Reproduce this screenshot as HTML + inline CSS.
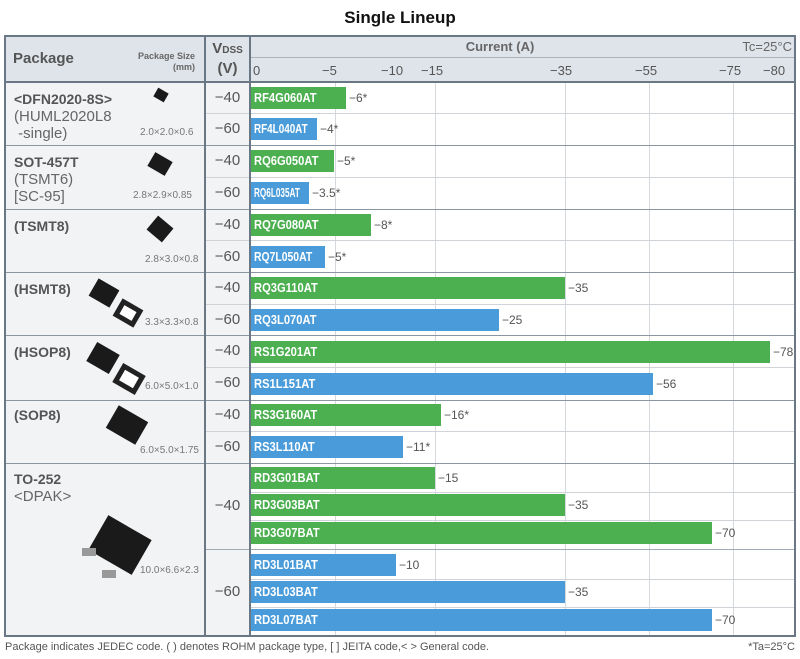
<!DOCTYPE html>
<html><head><meta charset="utf-8"><style>
*{margin:0;padding:0;box-sizing:border-box}
body{width:800px;height:659px;background:#fff;font-family:"Liberation Sans",Arial,sans-serif;position:relative;overflow:hidden;color:#555}
div{position:absolute}
.t{white-space:nowrap}
.bar{height:22px;color:#fff;font-weight:bold;font-size:13px;line-height:22px;padding-left:3px;overflow:visible}
.bar span{display:inline-block;transform:scaleX(0.86);transform-origin:left center}
.g{background:#4caf50}.b{background:#4a9bd9}
.v{font-size:12px;color:#555;line-height:22px}
.vd{font-size:15px;color:#555;width:45px;text-align:center;left:205px}
.pn{font-size:14px;font-weight:bold;color:#555;left:14px;line-height:17px}
.ps{font-size:15px;color:#666;left:14px;line-height:17px}
.sz{font-size:10px;color:#777;line-height:12px}
.hl{height:1px;background:#8a96a2}
.gl{width:1px;background:#d5d9dd;top:82px;height:554px}
.cl{height:1px;background:#d0d4d8;left:250px;width:545px}
.chip{background:#1a1a1a;transform:rotate(30deg)}
</style></head><body>
<div class="t" style="left:0;width:800px;top:8px;text-align:center;font-weight:bold;font-size:17px;color:#111">Single Lineup</div>
<div style="left:5px;top:36px;width:790px;height:46px;background:#dfe4ea"></div>
<div style="left:5px;top:82px;width:245px;height:554px;background:#f2f3f5"></div>
<div style="left:250px;top:57px;width:545px;height:1px;background:#aab3bc"></div>
<div class="t" style="left:13px;top:50px;font-weight:bold;font-size:15px;color:#555">Package</div>
<div class="t" style="left:120px;top:51px;width:75px;text-align:right;font-weight:bold;font-size:9px;color:#666;line-height:11px">Package Size<br>(mm)</div>
<div class="t" style="left:205px;top:40px;width:45px;text-align:center;font-weight:bold;font-size:15px;color:#555;line-height:18px">V<span style="font-size:10px">DSS</span><br>(V)</div>
<div class="t" style="left:250px;top:39px;width:500px;text-align:center;font-weight:bold;font-size:13px;color:#666">Current (A)</div>
<div class="t" style="left:700px;top:39px;width:92px;text-align:right;font-size:13px;color:#666">Tc=25°C</div>
<div class="t" style="left:253px;top:63px;font-size:13px;color:#555">0</div>
<div class="t" style="left:322px;top:63px;font-size:13px;color:#555">−5</div>
<div class="t" style="left:381px;top:63px;font-size:13px;color:#555">−10</div>
<div class="t" style="left:421px;top:63px;font-size:13px;color:#555">−15</div>
<div class="t" style="left:550px;top:63px;font-size:13px;color:#555">−35</div>
<div class="t" style="left:635px;top:63px;font-size:13px;color:#555">−55</div>
<div class="t" style="left:719px;top:63px;font-size:13px;color:#555">−75</div>
<div class="t" style="left:763px;top:63px;font-size:13px;color:#555">−80</div>
<div class="gl" style="left:335px"></div><div class="gl" style="left:435px"></div><div class="gl" style="left:565px"></div><div class="gl" style="left:649px"></div><div class="gl" style="left:733px"></div>
<div class="cl" style="top:113px;left:205px;width:590px"></div><div class="cl" style="top:177px;left:205px;width:590px"></div><div class="cl" style="top:240px;left:205px;width:590px"></div><div class="cl" style="top:304px;left:205px;width:590px"></div><div class="cl" style="top:367px;left:205px;width:590px"></div><div class="cl" style="top:431px;left:205px;width:590px"></div>
<div class="cl" style="top:492px"></div><div class="cl" style="top:520px"></div><div class="cl" style="top:549px;left:205px;width:590px;background:#a0aab4"></div><div class="cl" style="top:579px"></div><div class="cl" style="top:607px"></div>
<div class="hl" style="left:5px;width:790px;top:145px"></div><div class="hl" style="left:5px;width:790px;top:209px"></div><div class="hl" style="left:5px;width:790px;top:272px"></div><div class="hl" style="left:5px;width:790px;top:335px"></div><div class="hl" style="left:5px;width:790px;top:400px"></div><div class="hl" style="left:5px;width:790px;top:463px"></div>
<div style="left:4px;top:35px;width:792px;height:602px;border:2px solid #6a7885"></div>
<div style="left:5px;top:81px;width:790px;height:2px;background:#6a7885"></div>
<div style="left:204px;top:36px;width:2px;height:600px;background:#6a7885"></div>
<div style="left:249px;top:36px;width:2px;height:600px;background:#6a7885"></div>
<div class="t pn" style="top:91px">&lt;DFN2020-8S&gt;</div><div class="t ps" style="top:108px">(HUML2020L8<br>&nbsp;-single)</div>
<div class="t sz" style="left:140px;top:127px">2.0×2.0×0.6</div>
<div class="chip" style="left:155px;top:90px;width:12px;height:10px"></div>
<div class="t pn" style="top:154px">SOT-457T</div><div class="t ps" style="top:171px">(TSMT6)<br>[SC-95]</div>
<div class="t sz" style="left:133px;top:190px">2.8×2.9×0.85</div>
<div class="chip" style="left:150px;top:156px;width:20px;height:16px"></div>
<div class="t pn" style="top:218px">(TSMT8)</div>
<div class="t sz" style="left:145px;top:254px">2.8×3.0×0.8</div>
<div class="chip" style="left:150px;top:220px;width:20px;height:18px;transform:rotate(40deg)"></div>
<div class="t pn" style="top:281px">(HSMT8)</div>
<div class="t sz" style="left:145px;top:317px">3.3×3.3×0.8</div>
<div class="chip" style="left:92px;top:283px;width:24px;height:20px"></div><div class="chip" style="left:116px;top:303px;width:24px;height:20px;border:5px solid #222;background:#fff"></div>
<div class="t pn" style="top:344px">(HSOP8)</div>
<div class="t sz" style="left:145px;top:381px">6.0×5.0×1.0</div>
<div class="chip" style="left:90px;top:347px;width:26px;height:22px"></div><div class="chip" style="left:116px;top:368px;width:26px;height:22px;border:5px solid #222;background:#fff"></div>
<div class="t pn" style="top:407px">(SOP8)</div>
<div class="t sz" style="left:140px;top:445px">6.0×5.0×1.75</div>
<div class="chip" style="left:110px;top:412px;width:34px;height:26px"></div>
<div class="t pn" style="top:471px">TO-252</div><div class="t ps" style="top:488px">&lt;DPAK&gt;</div>
<div class="t sz" style="left:140px;top:565px">10.0×6.6×2.3</div>
<div class="chip" style="left:95px;top:525px;width:50px;height:40px"></div>
<div style="left:82px;top:548px;width:14px;height:8px;background:#999"></div><div style="left:102px;top:570px;width:14px;height:8px;background:#999"></div>
<div class="t vd" style="top:89px">−40</div><div class="t vd" style="top:120px">−60</div>
<div class="t vd" style="top:152px">−40</div><div class="t vd" style="top:184px">−60</div>
<div class="t vd" style="top:216px">−40</div><div class="t vd" style="top:248px">−60</div>
<div class="t vd" style="top:279px">−40</div><div class="t vd" style="top:311px">−60</div>
<div class="t vd" style="top:342px">−40</div><div class="t vd" style="top:374px">−60</div>
<div class="t vd" style="top:406px">−40</div><div class="t vd" style="top:438px">−60</div>
<div class="t vd" style="top:497px">−40</div><div class="t vd" style="top:583px">−60</div>
<div class="bar g t" style="left:251px;top:87px;width:95px"><span>RF4G060AT</span></div><div class="v t" style="left:349px;top:87px">−6*</div>
<div class="bar b t" style="left:251px;top:118px;width:66px"><span style="transform:scaleX(0.76)">RF4L040AT</span></div><div class="v t" style="left:320px;top:118px">−4*</div>
<div class="bar g t" style="left:251px;top:150px;width:83px"><span>RQ6G050AT</span></div><div class="v t" style="left:337px;top:150px">−5*</div>
<div class="bar b t" style="left:251px;top:182px;width:58px"><span style="transform:scaleX(0.63)">RQ6L035AT</span></div><div class="v t" style="left:312px;top:182px">−3.5*</div>
<div class="bar g t" style="left:251px;top:214px;width:120px"><span>RQ7G080AT</span></div><div class="v t" style="left:374px;top:214px">−8*</div>
<div class="bar b t" style="left:251px;top:246px;width:74px"><span style="transform:scaleX(0.8)">RQ7L050AT</span></div><div class="v t" style="left:328px;top:246px">−5*</div>
<div class="bar g t" style="left:251px;top:277px;width:314px"><span>RQ3G110AT</span></div><div class="v t" style="left:568px;top:277px">−35</div>
<div class="bar b t" style="left:251px;top:309px;width:248px"><span>RQ3L070AT</span></div><div class="v t" style="left:502px;top:309px">−25</div>
<div class="bar g t" style="left:251px;top:341px;width:519px"><span>RS1G201AT</span></div><div class="v t" style="left:773px;top:341px">−78</div>
<div class="bar b t" style="left:251px;top:373px;width:402px"><span>RS1L151AT</span></div><div class="v t" style="left:656px;top:373px">−56</div>
<div class="bar g t" style="left:251px;top:404px;width:190px"><span>RS3G160AT</span></div><div class="v t" style="left:444px;top:404px">−16*</div>
<div class="bar b t" style="left:251px;top:436px;width:152px"><span>RS3L110AT</span></div><div class="v t" style="left:406px;top:436px">−11*</div>
<div class="bar g t" style="left:251px;top:467px;width:184px"><span>RD3G01BAT</span></div><div class="v t" style="left:438px;top:467px">−15</div>
<div class="bar g t" style="left:251px;top:494px;width:314px"><span>RD3G03BAT</span></div><div class="v t" style="left:568px;top:494px">−35</div>
<div class="bar g t" style="left:251px;top:522px;width:461px"><span>RD3G07BAT</span></div><div class="v t" style="left:715px;top:522px">−70</div>
<div class="bar b t" style="left:251px;top:554px;width:145px"><span>RD3L01BAT</span></div><div class="v t" style="left:399px;top:554px">−10</div>
<div class="bar b t" style="left:251px;top:581px;width:314px"><span>RD3L03BAT</span></div><div class="v t" style="left:568px;top:581px">−35</div>
<div class="bar b t" style="left:251px;top:609px;width:461px"><span>RD3L07BAT</span></div><div class="v t" style="left:715px;top:609px">−70</div>
<div class="t" style="left:5px;top:641px;font-size:11px;color:#555">Package indicates JEDEC code. ( ) denotes ROHM package type, [ ] JEITA code,&lt; &gt; General code.</div>
<div class="t" style="left:740px;top:641px;width:55px;text-align:right;font-size:11px;color:#555">*Ta=25°C</div>
</body></html>
